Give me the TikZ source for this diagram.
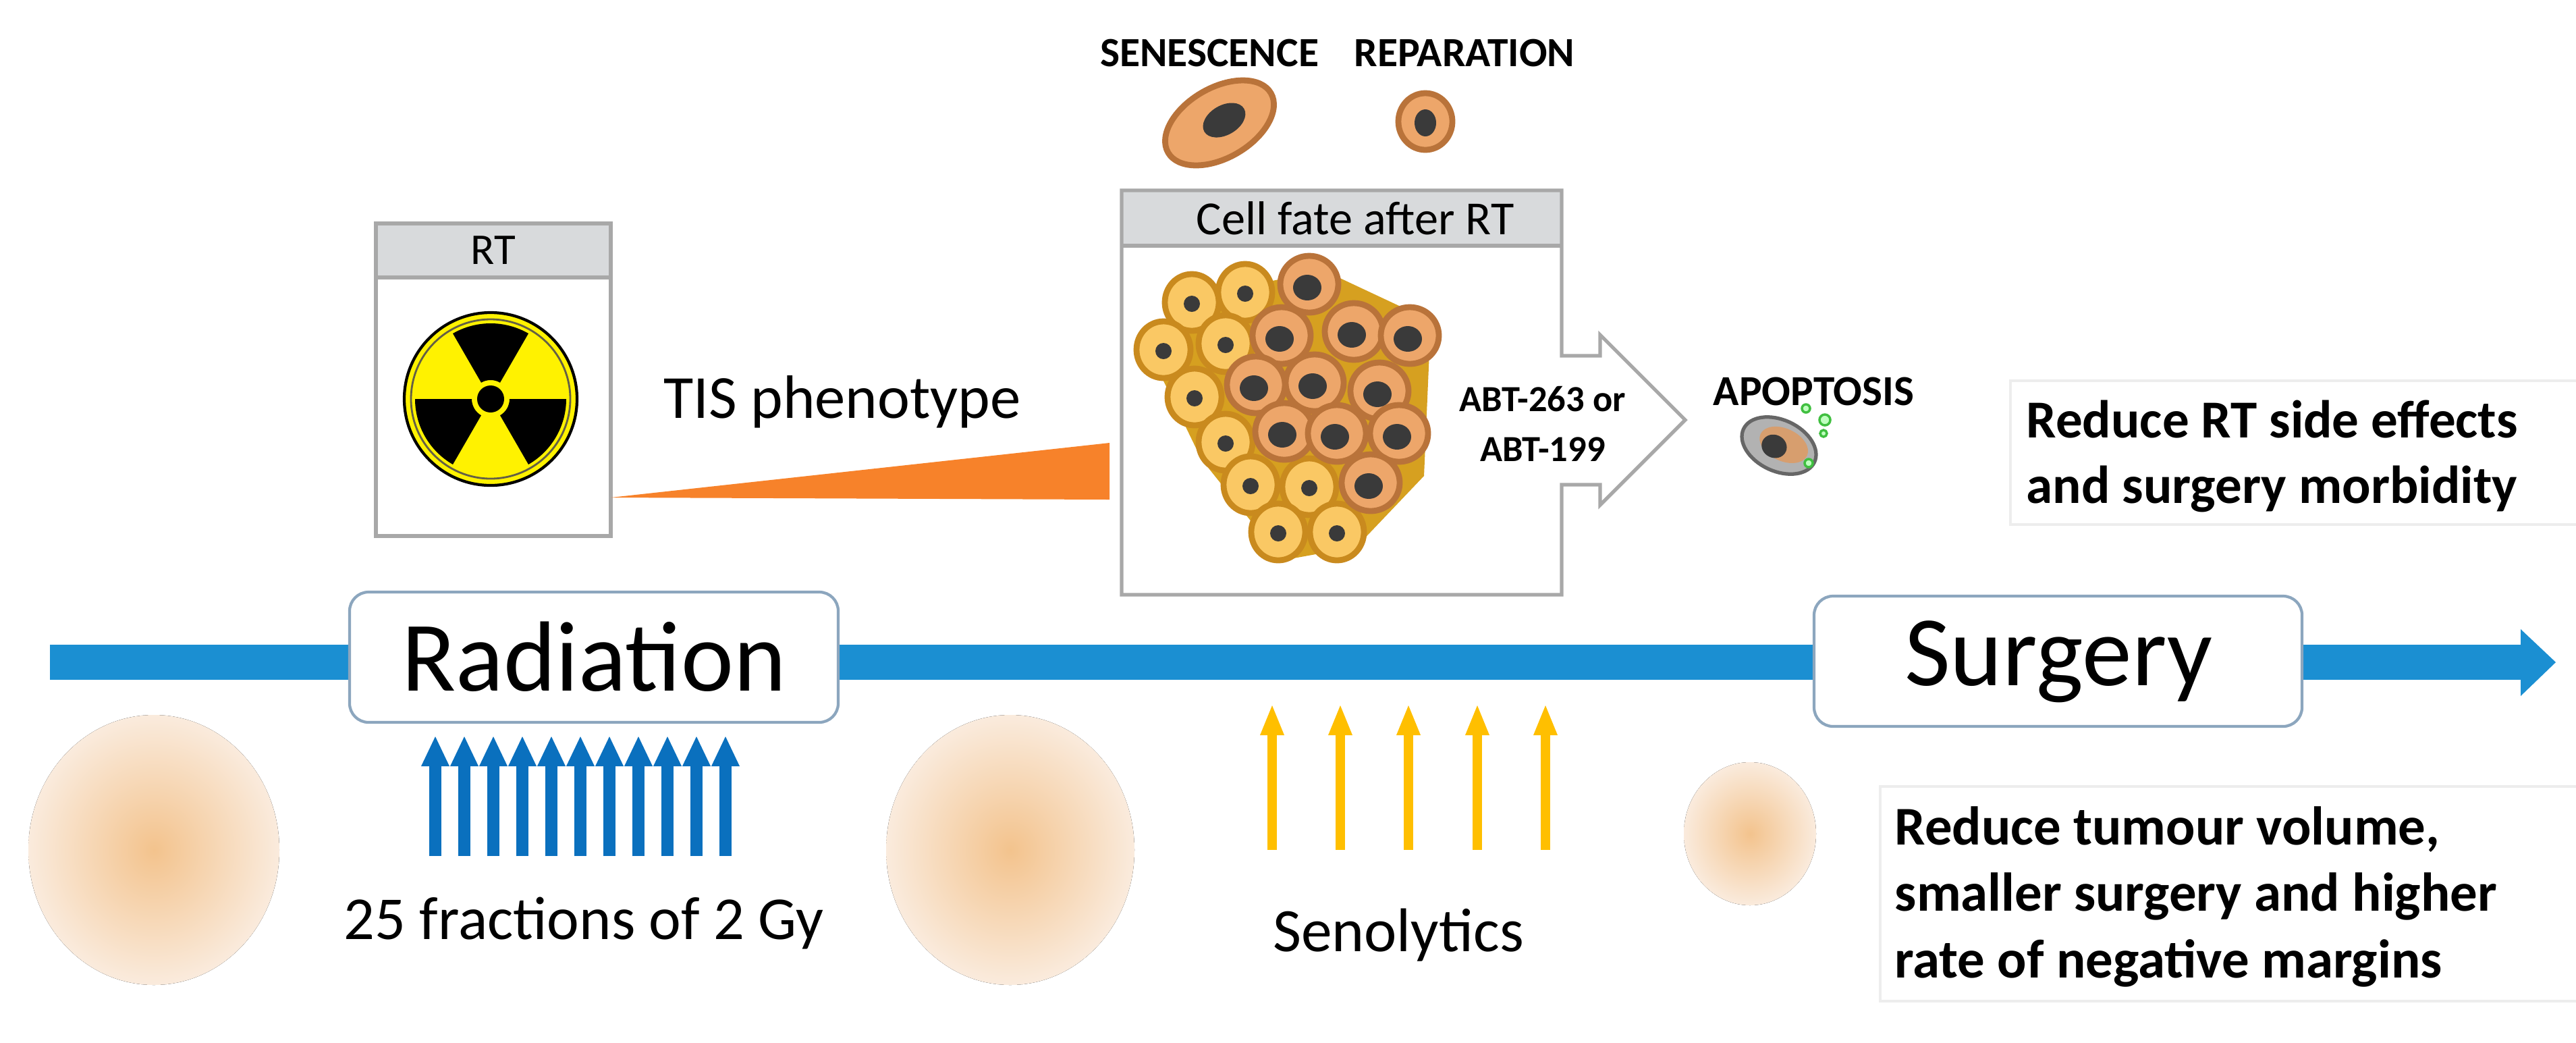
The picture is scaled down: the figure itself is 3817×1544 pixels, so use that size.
\documentclass[tikz,border=0pt]{standalone}
\usepackage{fontspec}
\setmainfont{Carlito}
\usetikzlibrary{shapes.geometric}
\definecolor{barblue}{HTML}{1B8FD2}
\definecolor{arrblue}{HTML}{0A70BE}
\definecolor{arryel}{HTML}{FFBF00}
\definecolor{wedge}{HTML}{F7822A}
\definecolor{hdr}{HTML}{D8DADC}
\definecolor{boxln}{HTML}{A8A8A8}
\definecolor{rbox}{HTML}{8CA6BE}
\definecolor{tumin}{HTML}{F3C38D}
\definecolor{tumout}{HTML}{FAEBDD}
\definecolor{cellY}{HTML}{FAC864}
\definecolor{cellYd}{HTML}{C98A1E}
\definecolor{cellO}{HTML}{EDA66A}
\definecolor{cellOd}{HTML}{B9733A}
\definecolor{gold}{HTML}{D6A020}
\definecolor{nuc}{HTML}{3A3A3A}
\tikzset{
  fs/.style={font=\fontsize{#1}{#1}\selectfont},
  bfs/.style={font=\bfseries\fontsize{#1}{#1}\selectfont},
  tl/.style={inner sep=0pt, align=center},
  tumour/.style={shading=radial, inner color=tumin, outer color=tumout},
  ycell/.style={fill=cellY, draw=cellYd, line width=2.5pt},
  ocell/.style={fill=cellO, draw=cellOd, line width=2.5pt},
  barr/.style={draw=arrblue, line width=5pt},
  yarr/.style={draw=arryel, line width=4pt},
  tbox/.style={rbox, line width=1.2pt, fill=white, rounded corners=8pt},
}
\begin{document}
\begin{tikzpicture}[x=0.01cm,y=-0.01cm]
\useasboundingbox (0,0) rectangle (3817,1544);
% timeline
\fill[barblue] (74,955) rectangle (3740,1007);
\fill[barblue] (3735,932) -- (3787,981) -- (3735,1031) -- cycle;
\draw[tbox] (518,877) rectangle (1242,1070);
\node[tl, fs=42] (radiation) at (880,973) {Radiation};
\draw[tbox] (2688,883) rectangle (3411,1076);
\node[tl, fs=42] (surgery) at (3050,980) {Surgery};
% tumours
\fill[tumour] (228,1259) ellipse (186 and 200);
\fill[tumour] (1497,1259) ellipse (184 and 200);
\fill[tumour] (2593,1235) ellipse (98 and 106);
% blue arrows
\foreach \i in {0,...,10}{
  \draw[barr] (645+\i*43,1268) -- (645+\i*43,1125);
  \fill[arrblue] (645+\i*43-21,1135) -- (645+\i*43,1091) -- (645+\i*43+21,1135) -- cycle;
}
\node[tl, fs=25.7] (fractions) at (865,1368) {25 fractions of 2 Gy};
% yellow arrows
\foreach \xx in {1885,1986,2087,2189,2290}{
  \draw[yarr] (\xx,1259) -- (\xx,1080);
  \fill[arryel] (\xx-18,1089) -- (\xx,1045) -- (\xx+18,1089) -- cycle;
}
\node[tl, fs=26] (senolytics) at (2072,1385) {Senolytics};
% outcome boxes
\draw[black!7, line width=1pt] (3817,564) -- (2979,564) -- (2979,777) -- (3817,777);
\node[tl, font=\bfseries\fontsize{22.5}{27.5}\selectfont, align=left, anchor=west] (rtside) at (3002,676) {Reduce RT side effects\\and surgery morbidity};
\draw[black!7, line width=1pt] (3817,1165) -- (2786,1165) -- (2786,1483) -- (3817,1483);
\node[tl, font=\bfseries\fontsize{23}{28}\selectfont, align=left, anchor=west] (tumvol) at (2807,1328) {Reduce tumour volume,\\smaller surgery and higher\\rate of negative margins};
% RT box
\fill[hdr] (557,331) rectangle (905,411);
\draw[boxln, line width=1.5pt] (557,331) rectangle (905,794) (557,411) -- (905,411);
\node[tl, fs=18.5] (rt) at (731,371) {RT};
% radiation symbol
\begin{scope}[shift={(727,591)}]
  \fill[yellow] (0,0) circle (128);
  \draw[black, line width=1.2pt] (0,0) circle (128);
  \draw[black!70!yellow, line width=0.8pt] (0,0) circle (118);
  \foreach \a in {30,150,270}{
    \fill[black] (\a-30:28) arc[start angle=\a-30, end angle=\a+30, radius=28] -- (\a+30:112) arc[start angle=\a+30, end angle=\a-30, radius=112] -- cycle;
  }
  \fill[black] (0,0) circle (20);
\end{scope}
% wedge
\fill[wedge] (905,737) -- (1644,656) -- (1644,740) -- cycle;
\node[tl, fs=25.8] (tis) at (1248,595) {TIS phenotype};
% cell fate box with arrow
\fill[hdr] (1662,282) rectangle (2314,364);
\draw[boxln, line width=1.5pt] (1662,282) -- (2314,282) -- (2314,527) -- (2371,527) -- (2371,496) -- (2497,622) -- (2371,748) -- (2371,718) -- (2314,718) -- (2314,881) -- (1662,881) -- cycle;
\draw[boxln, line width=1.5pt] (1662,364) -- (2314,364);
\node[tl, fs=20] (cellfate) at (2008,323) {Cell fate after RT};
\node[tl, font=\bfseries\fontsize{15.5}{21}\selectfont] (abt) at (2286,628) {ABT-263 or\\ABT-199};
% cluster
\fill[gold] (1750,445) -- (1960,400) -- (2120,475) -- (2110,705) -- (2010,810) -- (1900,830) -- (1780,680) -- (1705,525) -- cycle;
\foreach \p in {(1766,448),(1845,433),(1724,518),(1816,509),(1770,588),(1816,655),(1853,718),(1940,721),(1894,788),(1981,788)}{
  \draw[ycell] \p ellipse (40 and 42);
  \fill[nuc] \p ++(0,2) circle (12);
}
\foreach \p in {(1940,421),(1899,497),(2006,491),(2089,497),(1861,570),(1948,567),(2044,579),(1903,639),(1981,642),(2073,642),(2031,715)}{
  \draw[ocell] \p ellipse (43 and 42);
  \fill[nuc] \p ++(-3,5) ellipse (21 and 19);
}
% top cells
\node[tl, bfs=17.5] (sen) at (1792,79) {SENESCENCE};
\node[tl, bfs=17.5] (rep) at (2170,79) {REPARATION};
\draw[ocell, rotate around={30:(1807,182)}] (1807,182) ellipse (88 and 52);
\fill[nuc, rotate around={30:(1807,182)}] (1815,182) ellipse (34 and 22);
\draw[ocell] (2112,180) ellipse (40 and 42);
\fill[nuc] (2112,182) ellipse (16 and 20);
\node[tl, bfs=18, anchor=west] (apo) at (2538,580) {APOPTOSIS};
\draw[fill=gray!60, draw=gray!80!black, line width=1.5pt, rotate around={-25:(2636,660)}] (2636,660) ellipse (58 and 38);
\fill[cellO!80!gray, rotate around={-25:(2636,660)}] (2642,656) ellipse (38 and 24);
\fill[nuc, rotate around={-25:(2636,660)}] (2630,664) ellipse (19 and 17);
\foreach \p/\r in {{(2676,605)}/6,{(2704,622)}/8,{(2702,642)}/5,{(2680,686)}/6}{
  \draw[green!50!gray, fill=green!25, line width=1pt] \p circle (\r);
}
\end{tikzpicture}
\end{document}
